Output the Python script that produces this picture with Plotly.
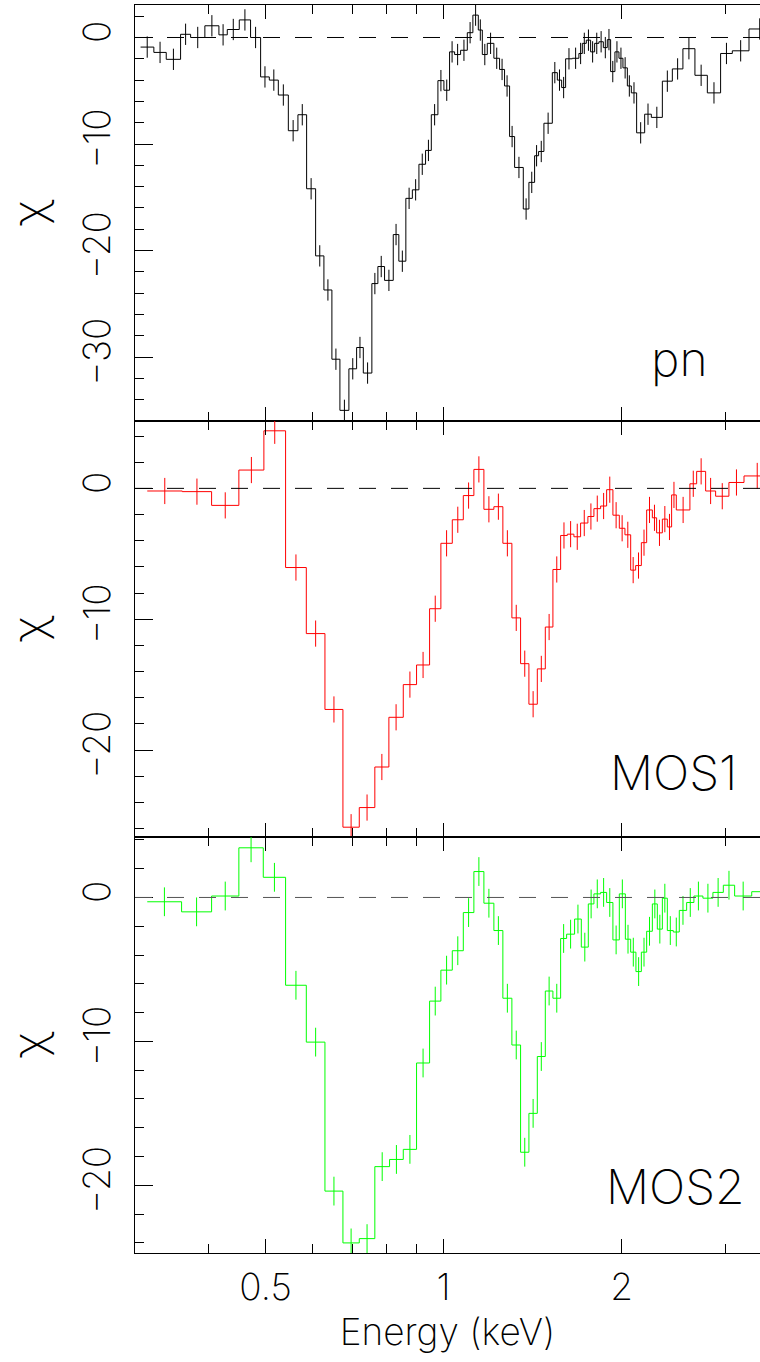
import plotly.graph_objects as go
from plotly.subplots import make_subplots
import math

# ---------------- data (energies in keV, residuals in sigma) ----------------
pn_edges = [0.3073, 0.3236, 0.3396, 0.3591, 0.3734, 0.3947, 0.4169, 0.4307, 0.4513, 0.4716,
            0.4904, 0.5073, 0.5254, 0.5463, 0.5671, 0.5866, 0.6075, 0.6275, 0.6473, 0.6678,
            0.6916, 0.7127, 0.7315, 0.7563, 0.7742, 0.7946, 0.8220, 0.8400, 0.8633, 0.8854,
            0.9084, 0.9322, 0.9532, 0.9781, 1.0012, 1.0235, 1.0438, 1.0684, 1.0967, 1.1208,
            1.1447, 1.1627, 1.1854, 1.2163, 1.2435, 1.2679, 1.2929, 1.3185, 1.3638, 1.3940,
            1.4252, 1.4475, 1.4778, 1.5270, 1.5571, 1.5835, 1.6082, 1.6508, 1.6935, 1.7162,
            1.7430, 1.7725, 1.8004, 1.8307, 1.8625, 1.8916, 1.9161, 1.9486, 1.9794, 2.0103,
            2.0451, 2.0771, 2.1205, 2.1878, 2.2454, 2.3437, 2.4366, 2.5391, 2.6607, 2.7925,
            2.9405, 3.0778, 3.2843, 3.5700]
pn_chi = [-0.9, -1.4, -2.05, 0.3, 0.0, 1.1, 0.25, 0.75, 1.65, 0.0,
          -3.7, -4.0, -5.4, -8.75, -7.25, -14.2, -20.5, -23.7, -30.2, -35.0,
          -31.1, -29.1, -31.5, -23.1, -21.5, -22.8, -18.5, -21.0, -15.1, -14.3,
          -11.9, -10.6, -7.25, -4.05, -4.95, -1.35, -1.6, -1.2, 0.45, 2.1,
          0.7, -1.6, -0.55, -1.95, -3.0, -4.55, -9.3, -12.2, -16.1, -13.6,
          -11.1, -10.7, -8.05, -3.3, -4.0, -4.7, -2.0, -1.95, -1.5, -0.55,
          -0.25, -1.35, -0.55, -0.4, -0.95, -0.2, -3.2, -1.35, -1.95, -2.85,
          -4.55, -5.2, -8.95, -7.2, -7.5, -4.1, -2.95, -1.05, -3.55, -5.2,
          -1.5, -1.25, 0.8]

mos1_edges = [0.3154, 0.3615, 0.4052, 0.4506, 0.4967, 0.5405, 0.5859, 0.6300, 0.6757, 0.7201,
              0.7651, 0.8081, 0.8547, 0.9000, 0.9469, 0.9895, 1.0344, 1.0797, 1.1251, 1.1699,
              1.2163, 1.2595, 1.3046, 1.3495, 1.3940, 1.4403, 1.4859, 1.5306, 1.5773, 1.6189,
              1.6610, 1.7048, 1.7539, 1.7955, 1.8430, 1.8866, 1.9334, 1.9822, 2.0261, 2.0718,
              2.1123, 2.1597, 2.2048, 2.2542, 2.2920, 2.3437, 2.3896, 2.4298, 2.4747, 2.6093,
              2.6786, 2.7739, 2.8840, 3.0371, 3.2211, 3.5700]
mos1_chi = [-0.2, -0.25, -1.3, 1.4, 4.4, -6.05, -11.1, -16.9, -25.9, -24.4,
            -21.3, -17.5, -15.0, -13.5, -9.2, -4.2, -2.4, -0.55, 1.45, -1.6,
            -1.4, -4.2, -9.9, -13.4, -16.5, -13.8, -10.6, -6.2, -3.6, -3.5,
            -3.7, -2.65, -2.15, -1.55, -1.35, -0.1, -2.05, -3.05, -3.55, -6.25,
            -5.9, -4.15, -1.65, -2.25, -3.4, -2.35, -2.95, -0.5, -1.65, 0.35,
            1.3, -0.2, -0.6, 0.45, 0.95]

mos2_edges = [0.3154, 0.3605, 0.4052, 0.4506, 0.4955, 0.5405, 0.5859, 0.6300, 0.6757, 0.7201,
              0.7651, 0.8102, 0.8547, 0.9000, 0.9469, 0.9895, 1.0344, 1.0797, 1.1251, 1.1699,
              1.2163, 1.2595, 1.3046, 1.3495, 1.3940, 1.4403, 1.4859, 1.5306, 1.5773, 1.6144,
              1.6653, 1.7095, 1.7567, 1.7955, 1.8430, 1.8866, 1.9334, 1.9822, 2.0293, 2.0718,
              2.1146, 2.1597, 2.2048, 2.2542, 2.2983, 2.3437, 2.3896, 2.4458, 2.5035, 2.5763,
              2.6503, 2.7447, 2.8537, 2.9717, 3.1055, 3.3192, 3.5700]
mos2_chi = [-0.3, -1.0, 0.1, 3.45, 1.4, -6.1, -10.05, -20.4, -24.0, -23.7,
            -18.7, -18.2, -17.5, -11.5, -7.2, -5.05, -3.7, -1.05, 1.8, -0.4,
            -2.3, -7.0, -10.25, -17.7, -15.0, -11.05, -6.5, -7.0, -2.85, -2.55,
            -1.5, -3.45, -0.45, 0.25, 0.35, -0.35, -2.95, 0.25, -2.9, -3.8,
            -5.15, -3.8, -2.35, -0.45, -2.2, -0.05, -2.3, -2.4, -0.9, -0.35,
            0.1, -0.05, 0.35, 0.85, 0.1, 0.4]

# residual errors are unity (chi = (data - model) / sigma)
pn_err = [1.0] * len(pn_chi)
mos1_err = [1.0] * len(mos1_chi)
mos2_err = [1.0] * len(mos2_chi)

x_range_kev = [0.3007, 3.428]
y_ranges = [[-36.0, 3.05], [-26.65, 5.15], [-24.7, 4.2]]
panel_names = ["pn", "MOS1", "MOS2"]
colors = ["#000000", "#ff0000", "#00ff00"]
major_ticks = [0.5, 1, 2]
major_labels = ["0.5", "1", "2"]
minor_ticks = [0.4, 0.6, 0.7, 0.8, 0.9, 3]

FONT = "Inter"
TXT = dict(family=FONT, size=37, color="#000000", weight=200)
CHI_FONT = dict(family=FONT, size=46, color="#000000", weight=200)

datasets = [(pn_edges, pn_chi, pn_err), (mos1_edges, mos1_chi, mos1_err), (mos2_edges, mos2_chi, mos2_err)]

fig = make_subplots(rows=3, cols=1, shared_xaxes=True, vertical_spacing=0)

for i, (edges, chi, err) in enumerate(datasets):
    row = i + 1
    col = colors[i]
    # histogram-style step line
    fig.add_trace(go.Scatter(x=edges, y=chi + [chi[-1]], mode="lines", line=dict(color=col, width=1, shape="hv"),
                             hoverinfo="skip", showlegend=False), row=row, col=1)
    # error bars at bin centres
    centers = [math.sqrt(edges[k] * edges[k + 1]) for k in range(len(chi))]
    fig.add_trace(go.Scatter(x=centers, y=chi, mode="markers", marker=dict(size=1, color=col, opacity=0),
                             error_y=dict(type="data", array=err, color=col, thickness=1, width=0),
                             showlegend=False), row=row, col=1)
    fig.add_hline(y=0, line=dict(color="#000000" if i < 2 else "#555555", width=1, dash="17px,15px"), row=row, col=1)

log_range = [math.log10(x_range_kev[0]), math.log10(x_range_kev[1])]
for i in range(3):
    fig.update_xaxes(type="log", range=log_range, tickmode="array", tickvals=major_ticks,
                     ticktext=major_labels, ticks="inside", ticklen=14, tickwidth=1, tickcolor="#000000",
                     minor=dict(tickmode="array", tickvals=minor_ticks, ticks="inside", ticklen=9, tickwidth=1, tickcolor="#000000", showgrid=False),
                     showline=True, linecolor="#000000", linewidth=1, mirror="allticks", showgrid=False, zeroline=False,
                     showticklabels=(i == 2), tickfont=TXT, ticklabelstandoff=2, automargin=False, row=i + 1, col=1)
    fig.update_yaxes(range=y_ranges[i], tick0=0, dtick=10, ticks="inside", ticklen=18, tickwidth=1, tickcolor="#000000",
                     minor=dict(tick0=0, dtick=2, ticks="inside", ticklen=9, tickwidth=1, tickcolor="#000000", showgrid=False),
                     showline=True, linecolor="#000000", linewidth=1, mirror=False, showgrid=False, zeroline=False,
                     tickangle=-90, tickfont=TXT, ticklabelstandoff=9, automargin=False,
                     title=dict(text="χ", font=CHI_FONT, standoff=40), row=i + 1, col=1)

# right-hand tick marks (the right frame edge lies just outside the picture, so no line there)
right_axes = {}
for i, name in enumerate(["y", "y2", "y3"]):
    right_axes[f"yaxis{i + 4}"] = dict(overlaying=name, anchor="x" if i == 0 else f"x{i + 1}", side="right",
                                       range=y_ranges[i], tick0=0, dtick=10, ticks="inside", ticklen=18, tickwidth=1,
                                       tickcolor="#000000", showline=False, showgrid=False, zeroline=False,
                                       showticklabels=False, automargin=False,
                                       minor=dict(tick0=0, dtick=2, ticks="inside", ticklen=9, tickwidth=1,
                                                  tickcolor="#000000", showgrid=False))
fig.update_layout(**right_axes)

fig.update_xaxes(title=dict(text="Energy (keV)", font=TXT, standoff=6), row=3, col=1)

label_pos = [(0.92, "y domain"), (0.966, "y2 domain"), (0.979, "y3 domain")]
label_y = [0.15, 0.155, 0.16]
for i in range(3):
    fig.add_annotation(text=panel_names[i], xref="x domain" if i == 0 else f"x{i+1} domain", yref=label_pos[i][1],
                       x=label_pos[i][0], y=label_y[i], xanchor="right", yanchor="middle", showarrow=False,
                       font=dict(family=FONT, size=48, color="#000000", weight=200))

fig.update_layout(width=760, height=1362, margin=dict(l=135, r=0, t=5, b=109, autoexpand=False),
                  paper_bgcolor="#ffffff", plot_bgcolor="#ffffff", showlegend=False)

fig.write_html("out.html", config={"displayModeBar": False},
               post_script="document.body.style.margin='0px';document.body.style.padding='0px';")
